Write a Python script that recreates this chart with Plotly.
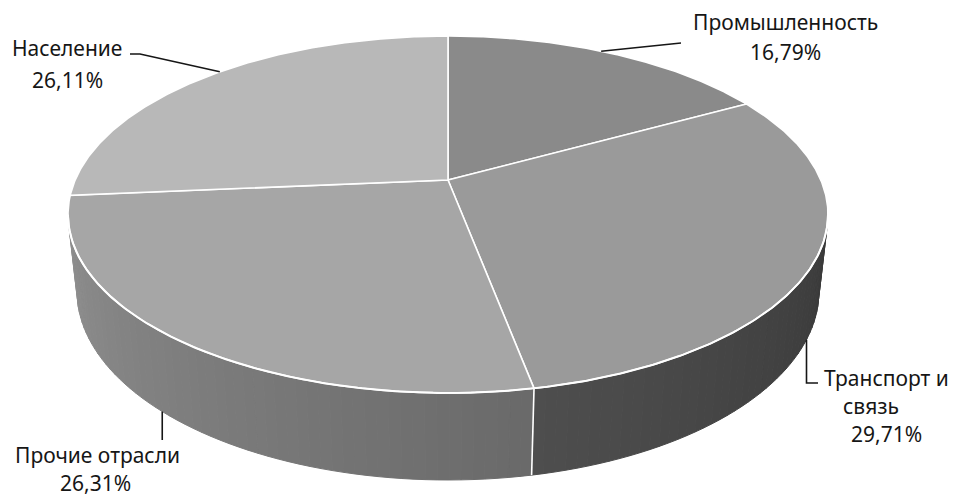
import numpy as np
import plotly.graph_objects as go

# ---------------- data ----------------
categories = ["Промышленность", "Транспорт и связь", "Прочие отрасли", "Население"]
label_lines = [["Промышленность"], ["Транспорт и", "связь"], ["Прочие отрасли"], ["Население"]]
values = [16.79, 29.71, 26.31, 26.11]

# ---------------- style ----------------
top_gray = [138, 154, 166, 184]
side_gray = [120, 105, 142, 160]
W, H_PX = 953, 499
CX, CY = 448.0, 180.0          # projected pie centre
SIN_A = 0.4608
ALPHA = np.arcsin(SIN_A)
COS_A = np.cos(ALPHA)
DIST = 4.591
FOC = 1711.6
THICK = 0.2334

leader_frac = [0.47, 0.5, 0.556, 0.535]
leader_face = ["top", "bottom", "bottom", "top"]
FONT = dict(family="Noto Sans, Open Sans, sans-serif", size=21, color="#161616")


def project(X, Y, Z):
    depth = DIST - Y * COS_A - Z * SIN_A
    x = CX + FOC * X / depth
    y = CY + FOC * (Y * SIN_A - Z * COS_A) / depth
    return x, y


def rim(theta, z=0.0):
    return project(np.sin(theta), -np.cos(theta), z)


def gray(v):
    v = int(max(0, min(255, round(v))))
    return f"rgb({v},{v},{v})"


vals = np.array(values, dtype=float)
frac = vals / vals.sum()
bounds = np.concatenate([[0.0], np.cumsum(frac)]) * 2 * np.pi

fig = go.Figure()

# visible part of the side wall
t_vis = 1.0 / (DIST * COS_A)
vis0 = np.arccos(-t_vis)
vis1 = 2 * np.pi - vis0


def shade(theta):
    return 0.55 + 0.45 * (np.degrees(theta) - 104.0) / (256.0 - 104.0)


for i in range(len(values)):
    a0, a1 = max(bounds[i], vis0), min(bounds[i + 1], vis1)
    if a1 <= a0:
        continue
    n = max(2, int(np.degrees(a1 - a0) / 1.5))
    ts = np.linspace(a0, a1, n + 1)
    for j in range(n):
        ta, tb = ts[j], ts[j + 1]
        tt = np.linspace(ta, tb, 4)
        xt, yt = rim(tt, 0.0)
        xb, yb = rim(tt[::-1], -THICK)
        xs = np.concatenate([xt, xb, xt[:1]])
        ys = np.concatenate([yt, yb, yt[:1]])
        c = gray(side_gray[i] * shade((ta + tb) / 2))
        fig.add_trace(go.Scatter(x=xs, y=ys, mode="lines", fill="toself",
                                 fillcolor=c, line=dict(color=c, width=1),
                                 hoverinfo="skip", showlegend=False))

# slice boundaries on the side wall
for b in bounds[1:-1]:
    if vis0 < b < vis1:
        x0, y0 = rim(b, 0.0)
        x1, y1 = rim(b, -THICK)
        fig.add_trace(go.Scatter(x=[x0, x1], y=[y0, y1], mode="lines",
                                 line=dict(color="white", width=1.6),
                                 hoverinfo="skip", showlegend=False))

# top faces
ax, ay = project(0.0, 0.0, 0.0)
for i in range(len(values)):
    ts = np.linspace(bounds[i], bounds[i + 1], 200)
    xr, yr = rim(ts, 0.0)
    xs = np.concatenate([[ax], xr, [ax]])
    ys = np.concatenate([[ay], yr, [ay]])
    fig.add_trace(go.Scatter(x=xs, y=ys, mode="lines", fill="toself",
                             fillcolor=gray(top_gray[i]),
                             line=dict(color="white", width=1.6),
                             name=categories[i], hoverinfo="name", showlegend=False))

# white highlight on front rim
tf = np.linspace(vis0 - 0.05, vis1 + 0.05, 300)
xf, yf = rim(tf, 0.0)
fig.add_trace(go.Scatter(x=xf, y=yf, mode="lines", line=dict(color="white", width=2),
                         hoverinfo="skip", showlegend=False))

# ---------------- labels & leaders ----------------
label_x = [[785, 785], [886, 871, 886], [97, 95], [67, 67]]
label_y = [[22, 52], [378, 406, 434], [455, 483], [48, 80]]
leader_tail = [
    lambda x, y: ([x, 681], [y, 43]),
    lambda x, y: ([x, x, 818], [y, 383, 383]),
    lambda x, y: ([x, x], [y, 440]),
    lambda x, y: ([x, 140, 130], [y, 54, 54]),
]

for i in range(len(values)):
    th = bounds[i] + leader_frac[i] * (bounds[i + 1] - bounds[i])
    z = 0.0 if leader_face[i] == "top" else -THICK
    sx, sy = rim(th, z)
    lx, ly = leader_tail[i](float(sx), float(sy))
    fig.add_trace(go.Scatter(x=lx, y=ly, mode="lines", line=dict(color="#161616", width=1.6),
                             hoverinfo="skip", showlegend=False))
    lines = label_lines[i] + [f"{values[i]:.2f}".replace(".", ",") + "%"]
    for k, txt in enumerate(lines):
        fig.add_annotation(x=label_x[i][k], y=label_y[i][k], text=txt, showarrow=False,
                           xanchor="center", yanchor="middle", font=FONT, borderpad=0)

fig.update_layout(
    width=W, height=H_PX, autosize=False,
    margin=dict(l=0, r=0, t=0, b=0),
    paper_bgcolor="white", plot_bgcolor="white",
    xaxis=dict(range=[0, W], visible=False, fixedrange=True),
    yaxis=dict(range=[H_PX, 0], visible=False, fixedrange=True),
    showlegend=False,
)

fig.write_html("out.html")
